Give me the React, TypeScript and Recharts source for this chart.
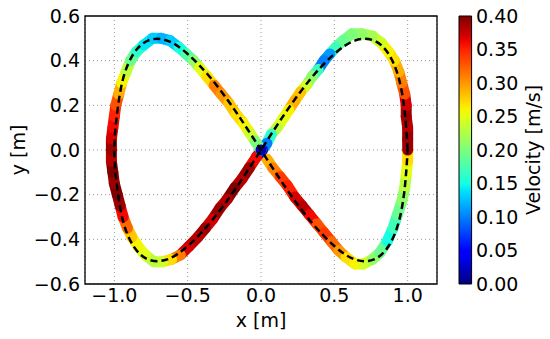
import React from 'react';
import { ComposedChart, Line, XAxis, YAxis, CartesianGrid, ReferenceArea, Bar } from 'recharts';

// Reference (dashed) path
const refX = [1.0, 0.98, 0.94, 0.87, 0.77, 0.64, 0.5, 0.34, 0.17, 0.0, -0.17, -0.34, -0.5, -0.64, -0.77, -0.87, -0.94, -0.98, -1.0, -0.98, -0.94, -0.87, -0.77, -0.64, -0.5, -0.34, -0.17, 0.0, 0.17, 0.34, 0.5, 0.64, 0.77, 0.87, 0.94, 0.98, 1.0];
const refY = [0.0, 0.17, 0.32, 0.43, 0.49, 0.49, 0.43, 0.32, 0.17, 0.0, -0.17, -0.32, -0.43, -0.49, -0.49, -0.43, -0.32, -0.17, 0.0, 0.17, 0.32, 0.43, 0.49, 0.49, 0.43, 0.32, 0.17, 0.0, -0.17, -0.32, -0.43, -0.49, -0.49, -0.43, -0.32, -0.17, 0.0];

// Measured trajectory with velocity
const trajX = [
  0.04, 0.08, 0.13, 0.18, 0.23, 0.28, 0.33, 0.38, 0.43, 0.48, 0.53, 0.58, 0.64, 0.70, 0.76, 0.81, 0.86, 0.90, 0.93, 0.96, 0.98, 0.99, 1.00, 1.00, 1.00, 1.00, 0.99, 0.99, 0.98, 0.96, 0.94, 0.91, 0.87, 0.82, 0.76, 0.69, 0.62, 0.56, 0.51, 0.47, 0.43, 0.39, 0.35, 0.31, 0.27, 0.23, 0.19, 0.15, 0.11, 0.07, 0.04, 0.01,
  -0.03, -0.08, -0.13, -0.18, -0.23, -0.28, -0.33, -0.38, -0.43, -0.49, -0.55, -0.61, -0.67, -0.73, -0.79, -0.84, -0.88, -0.91, -0.94, -0.96, -0.98, -1.00, -1.01, -1.02, -1.02, -1.02, -1.01, -1.00, -0.99, -0.97, -0.95, -0.92, -0.89, -0.85, -0.80, -0.74, -0.68, -0.62, -0.56, -0.51, -0.46, -0.42, -0.37, -0.32, -0.27, -0.22, -0.17, -0.12, -0.08, -0.04, 0.00,
];
const trajY = [
  -0.04, -0.08, -0.12, -0.16, -0.21, -0.25, -0.29, -0.33, -0.37, -0.41, -0.45, -0.48, -0.51, -0.51, -0.49, -0.46, -0.41, -0.35, -0.29, -0.23, -0.17, -0.11, -0.05, 0.00, 0.05, 0.10, 0.15, 0.20, 0.25, 0.30, 0.35, 0.40, 0.44, 0.48, 0.51, 0.52, 0.52, 0.49, 0.46, 0.43, 0.40, 0.36, 0.33, 0.29, 0.26, 0.22, 0.18, 0.14, 0.10, 0.07, 0.03, 0.00,
  -0.03, -0.08, -0.13, -0.17, -0.22, -0.26, -0.31, -0.35, -0.39, -0.43, -0.47, -0.49, -0.50, -0.50, -0.47, -0.43, -0.39, -0.35, -0.30, -0.25, -0.20, -0.15, -0.10, -0.05, 0.00, 0.05, 0.10, 0.15, 0.20, 0.25, 0.30, 0.35, 0.40, 0.44, 0.47, 0.50, 0.50, 0.49, 0.46, 0.43, 0.40, 0.37, 0.33, 0.29, 0.25, 0.21, 0.16, 0.12, 0.08, 0.04, 0.00,
];
const trajV = [
  0.29, 0.31, 0.34, 0.35, 0.37, 0.38, 0.36, 0.33, 0.34, 0.32, 0.30, 0.27, 0.26, 0.24, 0.21, 0.19, 0.15, 0.17, 0.19, 0.21, 0.23, 0.25, 0.27, 0.39, 0.39, 0.38, 0.39, 0.37, 0.33, 0.31, 0.29, 0.27, 0.26, 0.24, 0.22, 0.21, 0.20, 0.19, 0.17, 0.11, 0.10, 0.17, 0.21, 0.24, 0.28, 0.29, 0.26, 0.25, 0.23, 0.16, 0.10, 0.03,
  0.36, 0.39, 0.38, 0.40, 0.38, 0.39, 0.37, 0.39, 0.38, 0.37, 0.31, 0.27, 0.24, 0.23, 0.25, 0.26, 0.28, 0.32, 0.36, 0.39, 0.40, 0.39, 0.40, 0.38, 0.39, 0.37, 0.36, 0.35, 0.33, 0.29, 0.26, 0.23, 0.19, 0.16, 0.14, 0.13, 0.12, 0.13, 0.15, 0.18, 0.21, 0.25, 0.27, 0.31, 0.30, 0.28, 0.27, 0.26, 0.24, 0.20, 0.02,
];

const xTicks = [-1.0, -0.5, 0.0, 0.5, 1.0];
const yTicks = [-0.6, -0.4, -0.2, 0.0, 0.2, 0.4, 0.6];
const cbTicks = [0.0, 0.05, 0.1, 0.15, 0.2, 0.25, 0.3, 0.35, 0.4];
const vMax = 0.4;

const FONT = '"DejaVu Sans", sans-serif';
const FS = 19;

function jet(v: number): string {
  const t = Math.max(0, Math.min(1, v / vMax));
  let r: number, g: number, b: number;
  if (t < 0.35) r = 0; else if (t < 0.66) r = (t - 0.35) / 0.31; else if (t < 0.89) r = 1; else r = 1 - 0.5 * (t - 0.89) / 0.11;
  if (t < 0.125) g = 0; else if (t < 0.375) g = (t - 0.125) / 0.25; else if (t < 0.64) g = 1; else if (t < 0.91) g = 1 - (t - 0.64) / 0.27; else g = 0;
  if (t < 0.11) b = 0.5 + 0.5 * t / 0.11; else if (t < 0.34) b = 1; else if (t < 0.65) b = 1 - (t - 0.34) / 0.31; else b = 0;
  const h = (c: number) => Math.round(Math.max(0, Math.min(1, c)) * 255);
  return `rgb(${h(r)},${h(g)},${h(b)})`;
}

const fmt = (v: number, d: number) => v.toFixed(d).replace('-', '\u2212');

const refData = refX.map((x, i) => ({ x, y: refY[i] }));
const traj = trajX.map((x, i) => ({ x, y: trajY[i], v: trajV[i] }));
const segments = traj.map((p, i) => ({ color: jet(p.v), data: [p, traj[Math.min(i + 1, traj.length - 1)]] }));
const cbData = [{ n: 'cb', v: vMax }];
const gradStops = Array.from({ length: 41 }, (_, i) => i / 40);

export default function App() {
  return (
    <div style={{ position: 'absolute', left: 0, top: 0, width: 550, height: 339, background: '#fff', fontFamily: FONT }}>
      <div style={{ position: 'absolute', left: 0, top: 0 }}>
        <ComposedChart width={550} height={339} margin={{ top: 16, right: 113, bottom: 0, left: 0 }}>
          <CartesianGrid stroke="#999" strokeDasharray="1 3" strokeWidth={1} />
          <XAxis
            type="number"
            dataKey="x"
            domain={[-1.2, 1.2]}
            ticks={xTicks}
            allowDataOverflow
            height={55}
            tickLine={false}
            axisLine={false}
            tickSize={0}
            tickMargin={5}
            tickFormatter={(v: number) => fmt(v, 1)}
            tick={{ fill: '#000', fontSize: FS, fontFamily: FONT }}
            label={{ value: 'x [m]', position: 'center', dy: 9, fill: '#000', fontSize: FS, fontFamily: FONT }}
          />
          <YAxis
            type="number"
            dataKey="y"
            domain={[-0.6, 0.6]}
            ticks={yTicks}
            allowDataOverflow
            width={85}
            tickLine={false}
            axisLine={false}
            tickSize={0}
            tickMargin={5}
            tickFormatter={(v: number) => fmt(v, 1)}
            tick={{ fill: '#000', fontSize: FS, fontFamily: FONT }}
            label={{ value: 'y [m]', angle: -90, position: 'center', dx: -24, fill: '#000', fontSize: FS, fontFamily: FONT }}
          />
          {segments.map((s, i) => (
            <Line
              key={'s' + i}
              data={s.data}
              dataKey="y"
              type="linear"
              stroke={s.color}
              strokeWidth={11}
              strokeLinecap="round"
              dot={false}
              activeDot={false}
              isAnimationActive={false}
            />
          ))}
          <Line
            data={refData}
            dataKey="y"
            type="natural"
            stroke="#000"
            strokeWidth={2.5}
            strokeDasharray="7 4"
            dot={false}
            activeDot={false}
            isAnimationActive={false}
          />
          <ReferenceArea x1={-1.2} x2={1.2} y1={-0.6} y2={0.6} fill="none" stroke="#000" strokeWidth={1.3} ifOverflow="visible" />
        </ComposedChart>
      </div>
      <div style={{ position: 'absolute', left: 458, top: 0 }}>
        <ComposedChart width={92} height={339} data={cbData} margin={{ top: 16, right: 0, bottom: 55, left: 0 }} barCategoryGap={0}>
          <defs>
            <linearGradient id="jetGrad" x1="0" y1="1" x2="0" y2="0">
              {gradStops.map((s) => (
                <stop key={s} offset={s} stopColor={jet(s * vMax)} />
              ))}
            </linearGradient>
          </defs>
          <XAxis dataKey="n" hide />
          <YAxis
            type="number"
            orientation="right"
            domain={[0, vMax]}
            ticks={cbTicks}
            width={78}
            tickLine={false}
            axisLine={false}
            tickSize={0}
            tickMargin={4}
            tickFormatter={(v: number) => v.toFixed(2)}
            tick={{ fill: '#000', fontSize: FS, fontFamily: FONT, textAnchor: 'start' }}
            label={{ value: 'Velocity [m/s]', angle: -90, position: 'center', dx: 22, fill: '#000', fontSize: FS, fontFamily: FONT }}
          />
          <Bar dataKey="v" fill="url(#jetGrad)" stroke="#000" strokeWidth={1} barSize={14} isAnimationActive={false} />
        </ComposedChart>
      </div>
    </div>
  );
}
